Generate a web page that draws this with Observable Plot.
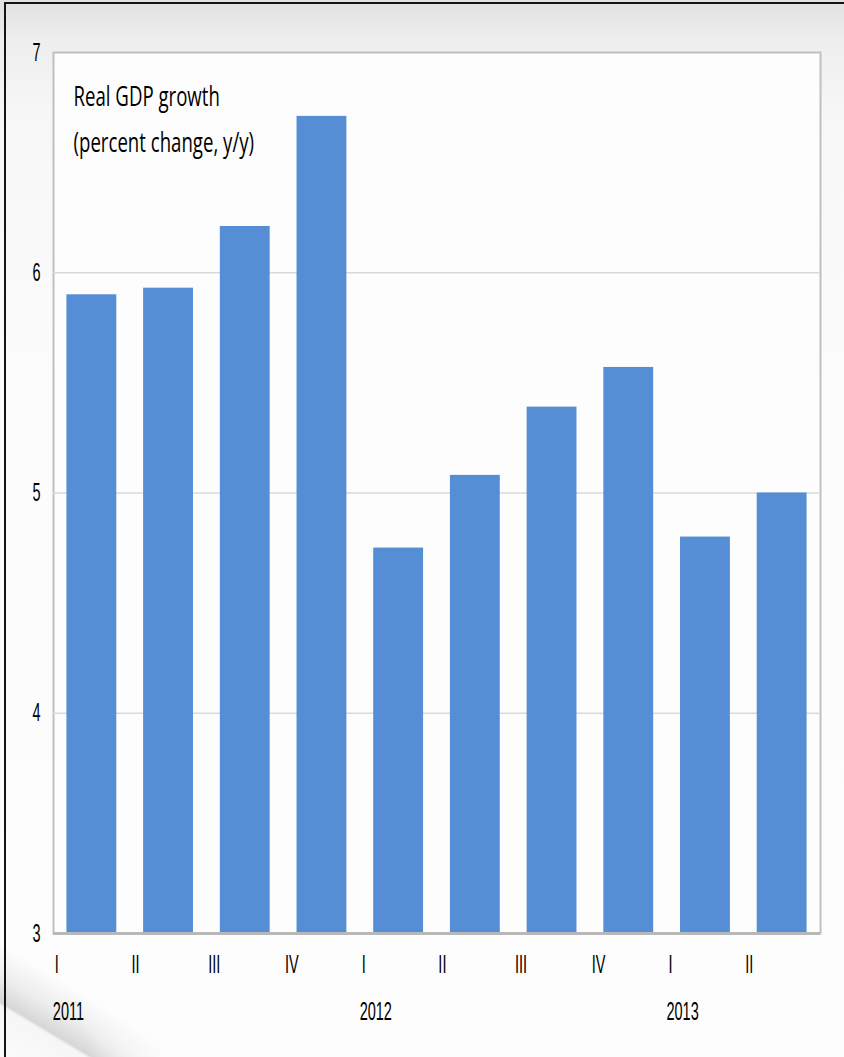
<!DOCTYPE html>
<html>
<head>
<meta charset="utf-8">
<script src="https://cdn.jsdelivr.net/npm/d3@7"></script>
<script src="https://cdn.jsdelivr.net/npm/@observablehq/plot@0.6"></script>
<style>
  html, body { margin: 0; padding: 0; }
  body {
    width: 844px; height: 1057px; overflow: hidden; position: relative;
    background: linear-gradient(#e1e1e1 0px, #eeeeee 40px, #f7f7f7 120px, #fcfcfc 400px, #fdfdfd 100%);
  }
  #edge {
    position: absolute; left: 4px; top: 2px; right: 0; bottom: 0;
    border-top: 2px solid #151515; border-left: 2px solid #151515;
    pointer-events: none;
  }
  #curl {
    position: absolute; left: 0; bottom: 0; width: 160px; height: 110px;
    background: linear-gradient(31deg, #fbfbfb 0%, #f6f6f6 25%, #d6d6d6 27%, #ebebeb 38%, rgba(250,250,250,0) 55%);
    -webkit-mask-image: radial-gradient(circle at 0% 100%, #000 45%, transparent 95%);
    mask-image: radial-gradient(circle at 0% 100%, #000 45%, transparent 95%);
    pointer-events: none;
  }
  #chart { position: absolute; left: 0; top: 0; }
</style>
</head>
<body>
<div id="curl"></div>
<div id="chart"></div>
<div id="edge"></div>
<script>
// Real GDP growth by quarter, percent change year on year
const periods = ["2011 Q1", "2011 Q2", "2011 Q3", "2011 Q4",
                 "2012 Q1", "2012 Q2", "2012 Q3", "2012 Q4",
                 "2013 Q1", "2013 Q2"];
const quarterLabels = ["I", "II", "III", "IV", "I", "II", "III", "IV", "I", "II"];
const growth = [5.90, 5.93, 6.21, 6.71, 4.75, 5.08, 5.39, 5.57, 4.80, 5.00];
const yearStarts = ["2011 Q1", "2012 Q1", "2013 Q1"];
const yearLabels = ["2011", "2012", "2013"];
const yTicks = [3, 4, 5, 6, 7];
const gridTicks = [4, 5, 6];
const titleText = "Real GDP growth\n(percent change, y/y)";

const data = periods.map((p, i) => ({period: p, value: growth[i]}));
const quarterOf = new Map(periods.map((p, i) => [p, quarterLabels[i]]));
const yearOf = new Map(yearStarts.map((p, i) => [p, yearLabels[i]]));

const axisFont = "'Liberation Sans', Arial, sans-serif";
const titleFont = "'Open Sans', 'Noto Sans', sans-serif";

const chart = Plot.plot({
  width: 844,
  height: 1057,
  marginLeft: 53,
  marginRight: 24,
  marginTop: 52,
  marginBottom: 124,
  style: {background: "transparent", fontFamily: axisFont, color: "#000"},
  x: {domain: periods, paddingInner: 0.35, paddingOuter: 0.175, round: false, axis: null},
  y: {domain: [3, 7], axis: null},
  marks: [
    Plot.frame({fill: "#fdfdfd", stroke: "#c0c0c0", strokeWidth: 2}),
    Plot.ruleY(gridTicks, {stroke: "#d9d9d9", strokeWidth: 1.5}),
    Plot.barY(data, {x: "period", y1: 3, y2: "value", fill: "#558ed5"}),
    Plot.ruleY([3], {stroke: "#b8b8b8", strokeWidth: 3}),
    Plot.axisY(yTicks, {
      label: null, tickSize: 0, tickPadding: 13, fontSize: 25, fill: "#000",
      tickFormat: d => String(d)
    }),
    Plot.axisX({
      label: null, tickSize: 0, tickPadding: 22, fontSize: 25, fill: "#000",
      textAnchor: "start", dx: -37,
      tickFormat: d => quarterOf.get(d)
    }),
    Plot.axisX(yearStarts, {
      label: null, tickSize: 0, tickPadding: 69, fontSize: 25, fill: "#000",
      textAnchor: "start", dx: -39,
      tickFormat: d => yearOf.get(d)
    }),
    Plot.text([titleText], {
      frameAnchor: "top-left", dx: 20, dy: 21,
      lineAnchor: "top", lineHeight: 1.7,
      textAnchor: "start",
      fontSize: 27, fill: "#000",
      fontFamily: titleFont
    })
  ]
});

// Narrow the lettering horizontally around each label's anchor point
chart.querySelectorAll("text").forEach(t => {
  const isTitle = t.closest("[font-family*='Open Sans']") !== null;
  const sx = isTitle ? 0.69 : 0.58;
  const tr = t.getAttribute("transform") || "";
  t.setAttribute("transform", (tr + ` scale(${sx},1)`).trim());
});

document.getElementById("chart").append(chart);
</script>
</body>
</html>
